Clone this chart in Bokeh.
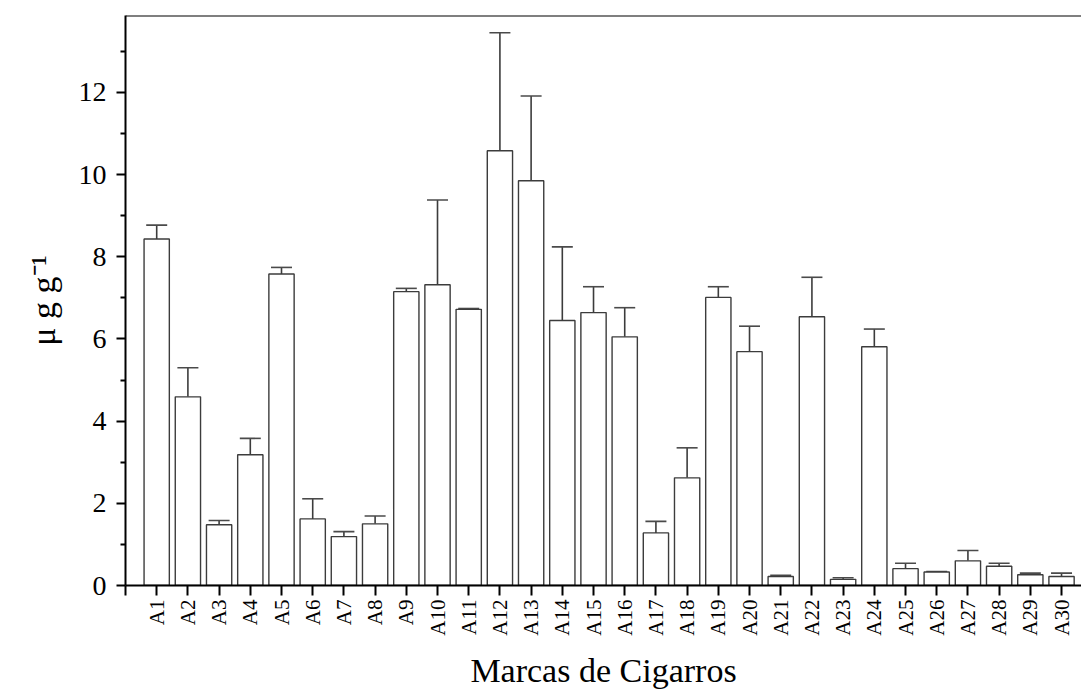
import math
from bokeh.plotting import figure
from bokeh.models import (Range1d, FixedTicker, Span, Whisker,
                          TeeHead, ColumnDataSource)
from bokeh.embed import file_html
from bokeh.resources import INLINE

# ---- data ----
categories = [f"A{i}" for i in range(1, 31)]
means = [8.43, 4.59, 1.48, 3.18, 7.58, 1.62, 1.19, 1.50, 7.15, 7.32,
         6.72, 10.58, 9.85, 6.45, 6.64, 6.05, 1.28, 2.62, 7.01, 5.69,
         0.22, 6.54, 0.15, 5.81, 0.41, 0.33, 0.60, 0.47, 0.26, 0.22]
sds = [0.34, 0.71, 0.10, 0.40, 0.16, 0.49, 0.12, 0.19, 0.08, 2.06,
       0.02, 2.87, 2.06, 1.79, 0.63, 0.71, 0.28, 0.73, 0.26, 0.62,
       0.03, 0.96, 0.04, 0.43, 0.13, 0.01, 0.25, 0.07, 0.04, 0.08]
y_ticks = [0, 2, 4, 6, 8, 10, 12]
y_minor = [1, 3, 5, 7, 9, 11, 13]
x_title = "Marcas de Cigarros"
y_title = "μ g g⁻¹"

FONT = "'Liberation Serif', 'Times New Roman', serif"

xpos = list(range(1, len(categories) + 1))
src = ColumnDataSource(dict(
    x=xpos, top=means, upper=[m + s for m, s in zip(means, sds)]))

p = figure(frame_width=956, frame_height=570,
           x_range=Range1d(0, 30.64), y_range=Range1d(0, 13.87),
           output_backend="svg", toolbar_location=None,
           min_border_left=125, min_border_right=0,
           min_border_top=15, min_border_bottom=106)
p.grid.visible = False
p.outline_line_color = None
p.background_fill_color = "white"
p.border_fill_color = "white"

p.vbar(x="x", top="top", bottom=0, width=0.81, source=src,
       fill_color="white", line_color="#3c3c3c", line_width=1.4)

w = Whisker(base="x", lower="top", upper="upper", source=src,
            dimension="height", line_color="#3c3c3c", line_width=1.6,
            upper_head=TeeHead(size=21, line_color="#4a4a4a", line_width=1.6),
            lower_head=None)
p.add_layout(w)

# top border line
p.add_layout(Span(location=13.87, dimension="width", line_color="black",
                  line_width=2))

# x axis
xa = p.xaxis[0]
xa.ticker = FixedTicker(ticks=xpos, minor_ticks=[0])
xa.major_label_overrides = {i: c for i, c in zip(xpos, categories)}
xa.major_label_orientation = math.pi / 2
xa.major_tick_out = 10
xa.major_tick_in = 0
xa.minor_tick_out = 10
xa.minor_tick_in = 0
xa.axis_line_width = 2
xa.major_tick_line_width = 2
xa.minor_tick_line_width = 2
xa.major_label_standoff = 4
xa.major_label_text_font = FONT
xa.major_label_text_font_size = "21px"
xa.major_label_text_color = "black"
xa.axis_label = x_title
xa.axis_label_text_font = FONT
xa.axis_label_text_font_size = "34px"
xa.axis_label_text_font_style = "normal"
xa.axis_label_text_color = "black"
xa.axis_label_standoff = 13

# y axis
ya = p.yaxis[0]
ya.ticker = FixedTicker(ticks=y_ticks, minor_ticks=y_minor)
ya.major_tick_out = 9
ya.major_tick_in = 0
ya.minor_tick_out = 5
ya.minor_tick_in = 0
ya.axis_line_width = 2
ya.major_tick_line_width = 2
ya.minor_tick_line_width = 2
ya.major_label_standoff = 10
ya.major_label_text_font = FONT
ya.major_label_text_font_size = "28px"
ya.major_label_text_color = "black"
ya.axis_label = y_title
ya.axis_label_text_font = FONT
ya.axis_label_text_font_size = "34px"
ya.axis_label_text_font_style = "normal"
ya.axis_label_text_color = "black"
ya.axis_label_standoff = 14

open("out.html", "w").write(file_html(p, INLINE))
